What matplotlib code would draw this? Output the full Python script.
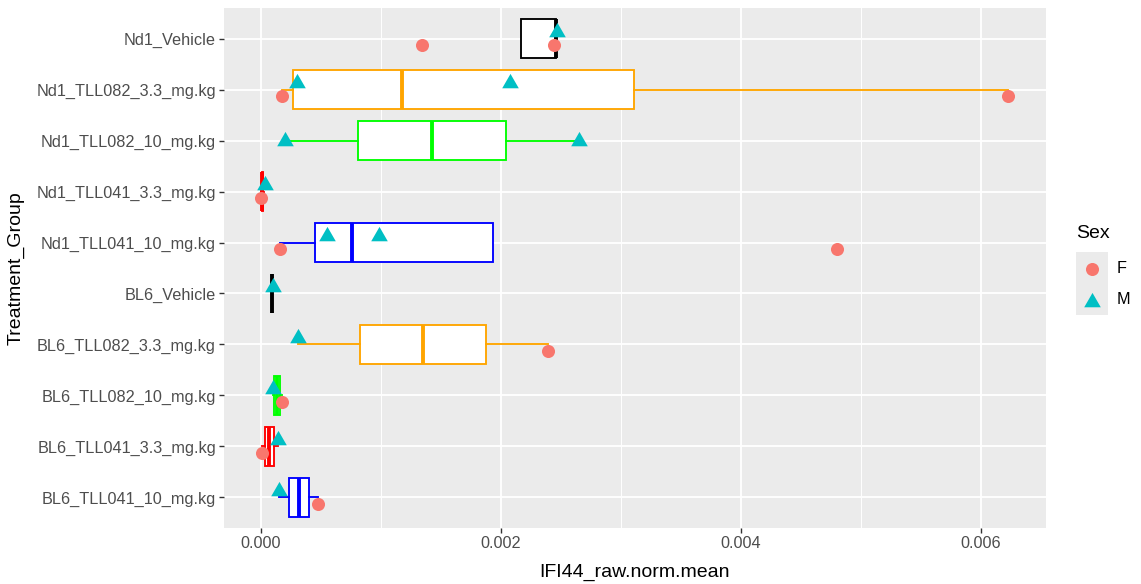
import numpy as np
import matplotlib
matplotlib.use("Agg")
import matplotlib.pyplot as plt
from matplotlib.lines import Line2D
from matplotlib.patches import Rectangle

plt.rcParams["font.family"] = ["Liberation Sans", "DejaVu Sans"]

# factor levels, bottom -> top (ggplot order)
groups = ["BL6_TLL041_10_mg.kg", "BL6_TLL041_3.3_mg.kg", "BL6_TLL082_10_mg.kg",
          "BL6_TLL082_3.3_mg.kg", "BL6_Vehicle", "Nd1_TLL041_10_mg.kg",
          "Nd1_TLL041_3.3_mg.kg", "Nd1_TLL082_10_mg.kg", "Nd1_TLL082_3.3_mg.kg",
          "Nd1_Vehicle"]
box_col = ["blue", "red", "#00FF00", "orange", "black",
           "blue", "red", "#00FF00", "orange", "black"]

# boxplot stats, units of 1e-3
whislo = [0.154, 0.010, 0.098, 0.309, 0.095, 0.162, 0.004, 0.204, 0.176, 2.164]
q1     = [0.231, 0.037, 0.108, 0.827, 0.095, 0.453, 0.006, 0.810, 0.268, 2.164]
med    = [0.314, 0.071, 0.133, 1.348, 0.095, 0.763, 0.010, 1.423, 1.179, 2.457]
q3     = [0.403, 0.106, 0.160, 1.875, 0.095, 1.935, 0.016, 2.038, 3.107, 2.457]
whishi = [0.478, 0.142, 0.179, 2.390, 0.095, 1.935, 0.030, 2.653, 6.225, 2.457]

# individual samples (value in 1e-3), NaN = missing value
pt_group = ["BL6_TLL041_10_mg.kg", "BL6_TLL041_10_mg.kg",
            "BL6_TLL041_3.3_mg.kg", "BL6_TLL041_3.3_mg.kg",
            "BL6_TLL082_10_mg.kg", "BL6_TLL082_10_mg.kg",
            "BL6_TLL082_3.3_mg.kg", "BL6_TLL082_3.3_mg.kg",
            "BL6_Vehicle", "BL6_Vehicle",
            "Nd1_TLL041_10_mg.kg", "Nd1_TLL041_10_mg.kg", "Nd1_TLL041_10_mg.kg", "Nd1_TLL041_10_mg.kg",
            "Nd1_TLL041_3.3_mg.kg", "Nd1_TLL041_3.3_mg.kg",
            "Nd1_TLL082_10_mg.kg", "Nd1_TLL082_10_mg.kg",
            "Nd1_TLL082_3.3_mg.kg", "Nd1_TLL082_3.3_mg.kg", "Nd1_TLL082_3.3_mg.kg", "Nd1_TLL082_3.3_mg.kg",
            "Nd1_Vehicle", "Nd1_Vehicle", "Nd1_Vehicle"]
pt_sex = ["M", "F", "F", "M", "M", "F", "M", "F", "M", "F",
          "F", "M", "M", "F", "F", "M", "M", "M",
          "F", "M", "M", "F", "F", "F", "M"]
pt_val = [0.154, 0.478, 0.010, 0.142, 0.098, 0.179, 0.309, 2.390, 0.098, np.nan,
          0.162, 0.553, 0.988, 4.796, 0.004, 0.035, 0.204, 2.653,
          0.176, 0.301, 2.074, 6.225, 1.344, 2.441, 2.469]

SEX_COL = {"F": "#F8766D", "M": "#00BFC4"}
TRI = [(0, 1), (-0.866, -0.5), (0.866, -0.5), (0, 1)]  # R pch 17 style
SEX_MK = {"F": dict(marker="o", markersize=9.4), "M": dict(marker=TRI, markersize=13.8)}
DODGE = 0.12

W, H = 1141, 584
fig = plt.figure(figsize=(W / 100, H / 100), dpi=100)
ax = fig.add_axes([224 / W, 56 / H, 821.5 / W, 520 / H])
ax.set_facecolor("#EBEBEB")
for s in ax.spines.values():
    s.set_visible(False)

pos = np.arange(len(groups))
scale = 1e-3
for i, g in enumerate(groups):
    st = dict(whislo=whislo[i] * scale, q1=q1[i] * scale, med=med[i] * scale,
              q3=q3[i] * scale, whishi=whishi[i] * scale, fliers=[])
    c = box_col[i]
    ax.bxp([st], positions=[i], widths=0.75, orientation="horizontal",
           patch_artist=True, showcaps=False, showfliers=False,
           boxprops=dict(facecolor="white", edgecolor=c, linewidth=1.35),
           whiskerprops=dict(color=c, linewidth=1.35),
           medianprops=dict(color=c, linewidth=2.8, solid_capstyle="butt"),
           zorder=3)

# points, dodged by sex within group
pt_group = np.array(pt_group); pt_sex = np.array(pt_sex); pt_val = np.array(pt_val)
for g_i, g in enumerate(groups):
    m = pt_group == g
    both = len(set(pt_sex[m])) > 1
    for sx, v in zip(pt_sex[m], pt_val[m]):
        off = (-DODGE if sx == "F" else DODGE) if both else 0.0
        ax.plot([v * scale], [g_i + off], linestyle="none", color=SEX_COL[sx],
                markeredgewidth=0, zorder=5, clip_on=False, **SEX_MK[sx])

allv = np.concatenate([np.array(whislo), np.array(whishi), pt_val[~np.isnan(pt_val)]]) * scale
lo, hi = allv.min(), allv.max()
pad = 0.05 * (hi - lo)
ax.set_xlim(lo - pad, hi + pad)
ax.set_ylim(-0.6, len(groups) - 0.4)

ax.set_xticks([0, 0.002, 0.004, 0.006])
ax.set_xticklabels(["0.000", "0.002", "0.004", "0.006"])
ax.set_xticks([0.001, 0.003, 0.005], minor=True)
ax.set_yticks(pos)
ax.set_yticklabels(groups)
ax.grid(which="major", color="white", linewidth=1.35, zorder=0)
ax.grid(which="minor", axis="x", color="white", linewidth=0.7, zorder=0)
ax.set_axisbelow(True)
ax.tick_params(which="major", length=3.8, width=1.0, color="#333333",
               labelcolor="#4D4D4D", labelsize=11.7, pad=2)
ax.tick_params(which="minor", length=0)

ax.set_xlabel("IFI44_raw.norm.mean", fontsize=14, color="black")
ax.set_ylabel("Treatment_Group", fontsize=14, color="black")
ax.xaxis.set_label_coords(0.5, -0.069)
ax.yaxis.set_label_coords(-0.2422, 0.5)

# legend drawn by hand (ggplot style keys)
def fx(px): return px / W
def fy(py): return 1 - py / H

fig.text(fx(1076.5), fy(233), "Sex", fontsize=14, va="center", ha="left")
fig.add_artist(Rectangle((fx(1075.7), fy(315)), fx(1108) - fx(1075.7), fy(251.7) - fy(315),
                         transform=fig.transFigure, facecolor="#EBEBEB", edgecolor="none"))
for sx, ky in zip(["F", "M"], [268.5, 299.7]):
    yk = ky if sx == "F" else ky + 2.5
    fig.add_artist(Line2D([fx(1092)], [fy(yk)], transform=fig.transFigure, linestyle="none",
                          color=SEX_COL[sx], markeredgewidth=0, **SEX_MK[sx]))
    fig.text(fx(1117), fy(ky), sx, fontsize=11.7, va="center", ha="left")

fig.savefig("out.png", dpi=100)
